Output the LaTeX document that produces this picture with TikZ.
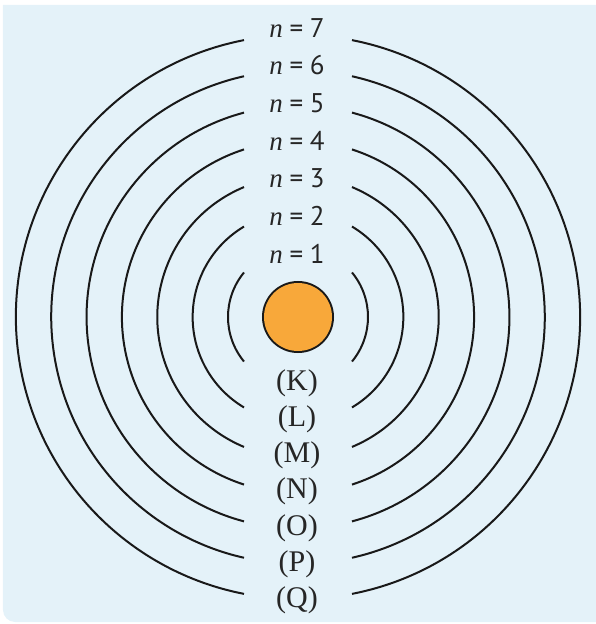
\documentclass[tikz,border=0pt]{standalone}
\usepackage{fontspec}
\setmainfont{Liberation Serif}
\newfontfamily\labelsans{PT Sans}
\definecolor{panelblue}{RGB}{228,242,249}
\definecolor{nucleusorange}{RGB}{248,168,58}

\begin{document}
\begin{tikzpicture}[x=1pt, y=1pt,
    shell/.style={line width=2pt, black!90},
    nlabel/.style={inner sep=0pt, text=black!85, font=\fontsize{27}{32}\selectfont\labelsans},
    letter/.style={inner sep=0pt, text=black!85, font=\fontsize{30}{36}\selectfont}]
    \def\w{54}

    % Panel (only the lower left corner is rounded)
    \useasboundingbox (-298,-307) rectangle (298,317);
    \fill[panelblue] (298,312) -- (-295,312) -- (-295,0) [rounded corners=12pt] -- (-295,-305) -- (0,-305) [sharp corners] -- (298,-305) -- cycle;

    % Nucleus
    \draw[fill=nucleusorange, line width=2pt, black!90] (0,0) circle (35);
    \fill[nucleusorange] (0,0) circle (34);

    % Shells, broken at top and bottom for the labels
    \foreach \k/\s in {1/K, 2/L, 3/M, 4/N, 5/O, 6/P, 7/Q} {
        \pgfmathsetmacro\r{70+35.35*(\k-1)}
        \pgfmathsetmacro\a{asin(\w/\r)}
        \draw[shell] (90+\a:\r) arc[start angle=90+\a, end angle=270-\a, radius=\r];
        \draw[shell] (-90+\a:\r) arc[start angle=-90+\a, end angle=90-\a, radius=\r];
        \node[nlabel] (n\k) at (-1, {63.5+37.6*(\k-1)}) {{\rmfamily\itshape n}\hspace{0.25em}=\hspace{0.25em}\k};
        \node[letter] (s\s) at (-1, {-66-36.2*(\k-1)}) {(\s)};
    }
\end{tikzpicture}
\end{document}
